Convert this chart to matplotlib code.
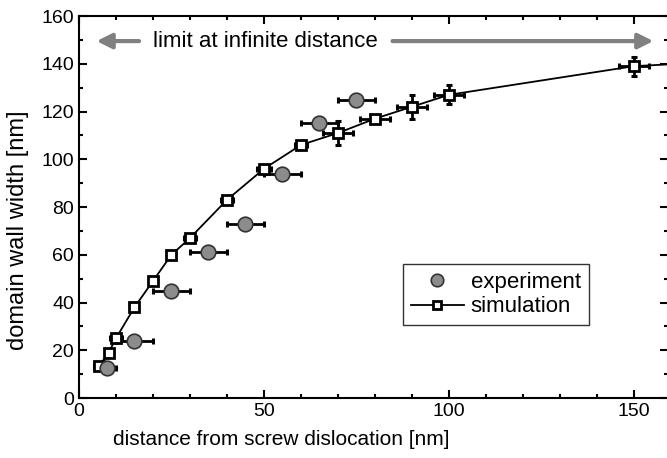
import matplotlib.pyplot as plt
from matplotlib.ticker import MultipleLocator

plt.rcParams["font.family"] = ["Liberation Sans", "DejaVu Sans"]

# experiment data
exp_x = [7.5, 15, 25, 35, 45, 55, 65, 75]
exp_y = [12.5, 24, 45, 61, 73, 94, 115, 125]
exp_xerr = [2.5, 5, 5, 5, 5, 5, 5, 5]
exp_yerr = [1.5, 1, 1, 2.5, 1, 2.5, 2.5, 2.5]

# simulation data
sim_x = [5.5, 8, 10, 15, 20, 25, 30, 40, 50, 60, 70, 80, 90, 100, 150]
sim_y = [13.5, 19, 25, 38, 49, 60, 67, 83, 96, 106, 111, 117, 122, 127, 139]
sim_xerr = [1.5, 1, 1.5, 0.5, 0.5, 0.5, 1.5, 1.5, 2, 1.5, 4, 4, 4, 4, 4]
sim_yerr = [1, 1, 1, 0.5, 0.5, 0.5, 1, 1, 1, 1, 5, 1, 5, 4, 4]

# curve through the simulation, continued to the right edge
fit_x = sim_x + [160]
fit_y = sim_y + [139.8]

fig = plt.figure(figsize=(6.67, 4.58), dpi=100)
ax = fig.add_axes([0.1184, 0.131, 0.8831, 0.834])

ax.plot(fit_x, fit_y, color="black", lw=1.3, zorder=2)
ax.errorbar(sim_x, sim_y, xerr=sim_xerr, yerr=sim_yerr, fmt="none",
            ecolor="black", elinewidth=2, capsize=2.5, capthick=2.2, zorder=3)
ax.plot(sim_x, sim_y, "s", ms=7, mfc="white", mec="black", mew=2, zorder=4)

ax.errorbar(exp_x, exp_y, xerr=exp_xerr, yerr=exp_yerr, fmt="none",
            ecolor="black", elinewidth=2, capsize=2.5, capthick=2.2, zorder=3)
ax.plot(exp_x, exp_y, "o", ms=10.5, mfc="#8c8c8c", mec="#333333", mew=1.2, zorder=5)

# legend proxies
ax.plot([], [], "o", ms=9, mfc="#8c8c8c", mec="#333333", mew=1.2, label="experiment")
ax.plot([], [], "-s", color="black", lw=1.3, ms=6, mfc="white", mec="black", mew=2,
        label="simulation")
h, l = ax.get_legend_handles_labels()
leg = ax.legend(h[-2:], l[-2:], loc="upper left", bbox_to_anchor=(0.55, 0.35),
                fontsize=16, frameon=True, fancybox=False, handlelength=2.4,
                handletextpad=0.3, borderpad=0.35, borderaxespad=0,
                labelspacing=0.15)
leg.get_frame().set_edgecolor("black")
leg.get_frame().set_linewidth(1)

# limit arrows
ax.annotate("", xy=(4, 149.5), xytext=(17, 149.5),
            arrowprops=dict(arrowstyle="-|>,head_length=0.9,head_width=0.45",
                            color="#808080", lw=3))
ax.annotate("", xy=(156, 149.5), xytext=(84, 149.5),
            arrowprops=dict(arrowstyle="-|>,head_length=0.9,head_width=0.45",
                            color="#808080", lw=3))
ax.text(50.5, 149.5, "limit at infinite distance", fontsize=16,
        ha="center", va="center")

ax.set_xlim(0, 159.2)
ax.set_ylim(0, 160)
ax.xaxis.set_major_locator(MultipleLocator(50))
ax.xaxis.set_minor_locator(MultipleLocator(10))
ax.yaxis.set_major_locator(MultipleLocator(20))
ax.yaxis.set_minor_locator(MultipleLocator(10))
ax.tick_params(which="both", direction="in", top=True, right=True, width=1.5,
               labelsize=14)
ax.tick_params(which="major", length=6)
ax.tick_params(which="minor", length=3)
for s in ax.spines.values():
    s.set_linewidth(1.5)

ax.set_xlabel("distance from screw dislocation [nm]", fontsize=15)
ax.xaxis.set_label_coords(0.344, -0.083)
ax.set_ylabel("domain wall width [nm]", fontsize=17)
ax.yaxis.set_label_coords(-0.085, 0.44)

fig.savefig("out.png", dpi=100)
